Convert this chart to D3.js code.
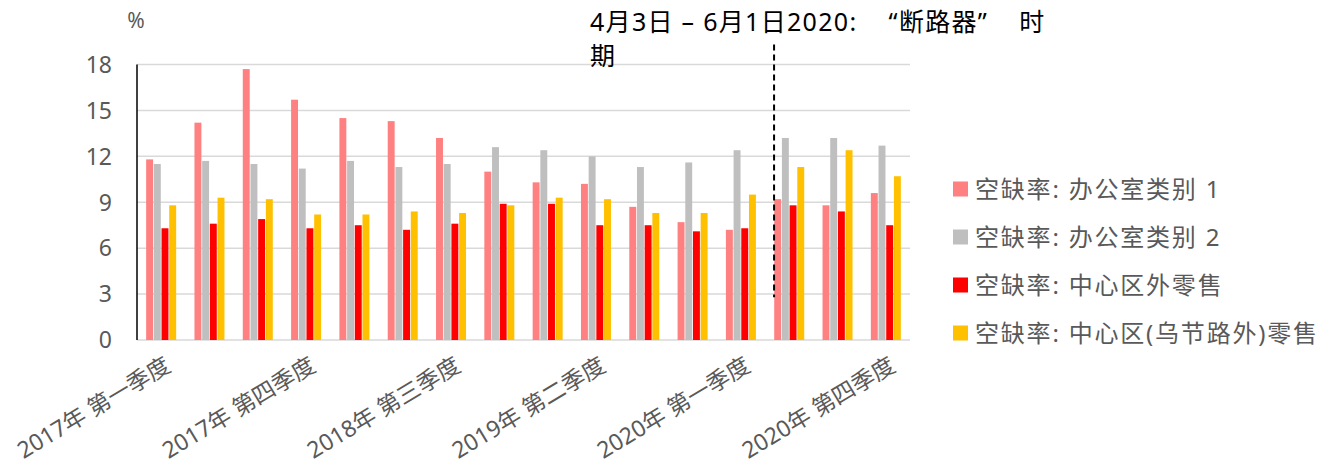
<!DOCTYPE html>
<html>
<head>
<meta charset="utf-8">
<script src="https://cdnjs.cloudflare.com/ajax/libs/d3/7.8.5/d3.min.js"></script>
<style>
  body { margin: 0; background: #fff; }
  text { font-family: "Noto Sans", "Noto Sans CJK SC", sans-serif; }
</style>
</head>
<body>
<script>
// quarters 2017 Q1 .. 2020 Q4
const categories = [
  "2017年 第一季度", "2017年 第二季度", "2017年 第三季度", "2017年 第四季度",
  "2018年 第一季度", "2018年 第二季度", "2018年 第三季度", "2018年 第四季度",
  "2019年 第一季度", "2019年 第二季度", "2019年 第三季度", "2019年 第四季度",
  "2020年 第一季度", "2020年 第二季度", "2020年 第三季度", "2020年 第四季度"
];
const seriesNames = [
  "空缺率: 办公室类别 1",
  "空缺率: 办公室类别 2",
  "空缺率: 中心区外零售",
  "空缺率: 中心区(乌节路外)零售"
];
const office1 = [11.8, 14.2, 17.7, 15.7, 14.5, 14.3, 13.2, 11.0, 10.3, 10.2, 8.7, 7.7, 7.2, 9.2, 8.8, 9.6];
const office2 = [11.5, 11.7, 11.5, 11.2, 11.7, 11.3, 11.5, 12.6, 12.4, 12.0, 11.3, 11.6, 12.4, 13.2, 13.2, 12.7];
const retailOut = [7.3, 7.6, 7.9, 7.3, 7.5, 7.2, 7.6, 8.9, 8.9, 7.5, 7.5, 7.1, 7.3, 8.8, 8.4, 7.5];
const retailCentral = [8.8, 9.3, 9.2, 8.2, 8.2, 8.4, 8.3, 8.8, 9.3, 9.2, 8.3, 8.3, 9.5, 11.3, 12.4, 10.7];
const yTicks = [0, 3, 6, 9, 12, 15, 18];
const colors = ["#ff8080", "#bfbfbf", "#ff0000", "#ffc000"];
const annotationLines = ["4月3日 – 6月1日2020:    “断路器”    时", "期"];

const allSeries = [office1, office2, retailOut, retailCentral];

const W = 1334, H = 469;
const plotLeft = 137, plotRight = 910, plotTop = 64.5, plotBottom = 340;

const svg = d3.select("body").append("svg")
  .attr("width", W)
  .attr("height", H);

const x0 = d3.scaleBand().domain(categories).range([plotLeft, plotRight]).padding(0);
const x1 = d3.scaleBand().domain(d3.range(4))
  .range([x0.bandwidth() / 2 - 15, x0.bandwidth() / 2 + 15])
  .paddingInner(0.1);
const y = d3.scaleLinear().domain([0, 18]).range([plotBottom, plotTop]);

// gridlines
svg.append("g")
  .selectAll("line")
  .data(yTicks)
  .join("line")
    .attr("x1", plotLeft)
    .attr("x2", plotRight)
    .attr("y1", d => y(d))
    .attr("y2", d => y(d))
    .attr("stroke", "#d9d9d9")
    .attr("stroke-width", 1.5);

// y labels
svg.append("g")
  .selectAll("text")
  .data(yTicks)
  .join("text")
    .attr("x", 112)
    .attr("y", d => y(d))
    .attr("dy", "0.36em")
    .attr("text-anchor", "end")
    .attr("font-size", 23)
    .attr("fill", "#595959")
    .text(d => d);

svg.append("text")
  .attr("x", 136)
  .attr("y", 28)
  .attr("text-anchor", "middle")
  .attr("font-size", 21)
  .attr("fill", "#595959")
  .text("%");

// bars
const groups = svg.append("g")
  .selectAll("g")
  .data(categories)
  .join("g")
    .attr("transform", d => "translate(" + x0(d) + ",0)");

groups.selectAll("rect")
  .data((d, i) => allSeries.map((s, k) => ({ k: k, v: s[i] })))
  .join("rect")
    .attr("x", d => x1(d.k))
    .attr("width", x1.bandwidth())
    .attr("y", d => y(d.v))
    .attr("height", d => y(0) - y(d.v))
    .attr("fill", d => colors[d.k]);

// y axis line
svg.append("line")
  .attr("x1", plotLeft).attr("x2", plotLeft)
  .attr("y1", y(18)).attr("y2", y(0))
  .attr("stroke", "#000")
  .attr("stroke-width", 1.5);

// x labels, every third quarter
svg.append("g")
  .selectAll("text")
  .data(categories.filter((d, i) => i % 3 === 0))
  .join("text")
    .attr("transform", d => "translate(" + (x0(d) + x0.bandwidth() / 2 + 7) + ",363) rotate(-31)")
    .attr("text-anchor", "end")
    .attr("dy", "0.35em")
    .attr("font-size", 23)
    .attr("fill", "#595959")
    .text(d => d);

// circuit breaker marker
const cbX = x0(categories[13]) + 9;
svg.append("line")
  .attr("x1", cbX).attr("x2", cbX)
  .attr("y1", y(19.3)).attr("y2", y(2.8))
  .attr("stroke", "#000")
  .attr("stroke-width", 2)
  .attr("stroke-dasharray", "6,4");

svg.append("text")
  .attr("font-size", 25)
  .attr("font-family", "'Noto Sans CJK SC', sans-serif")
  .attr("letter-spacing", 1.3)
  .attr("fill", "#000")
  .style("white-space", "pre")
  .selectAll("tspan")
  .data(annotationLines)
  .join("tspan")
    .attr("x", 590)
    .attr("y", (d, i) => 31 + i * 34)
    .text(d => d);

// legend
const legend = svg.append("g")
  .selectAll("g")
  .data(seriesNames)
  .join("g")
    .attr("transform", (d, i) => "translate(953," + (189 + i * 48) + ")");

legend.append("rect")
  .attr("x", 0).attr("y", -7.5)
  .attr("width", 15).attr("height", 15)
  .attr("fill", (d, i) => colors[i]);

legend.append("text")
  .attr("x", 22)
  .attr("dy", "0.36em")
  .attr("font-size", 24)
  .attr("letter-spacing", 1.8)
  .attr("fill", "#595959")
  .text(d => d);
</script>
</body>
</html>
